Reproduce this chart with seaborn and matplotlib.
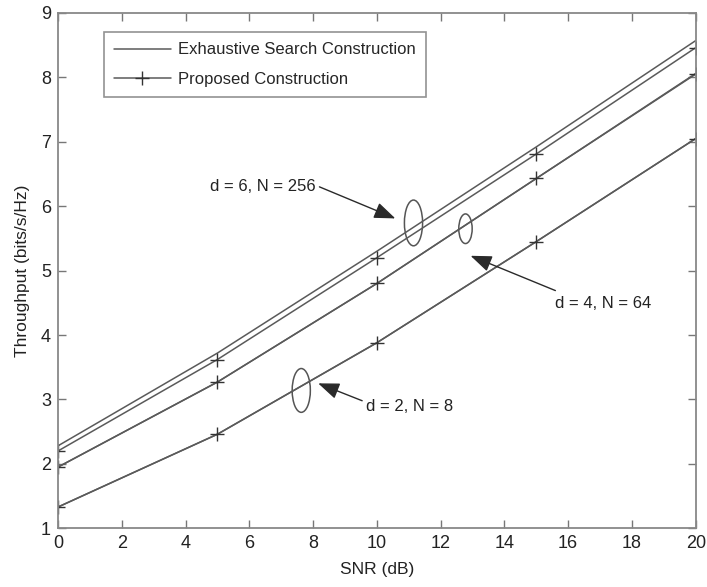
import matplotlib
matplotlib.use("Agg")
import matplotlib.pyplot as plt
from matplotlib.patches import Ellipse
import numpy as np
import pandas as pd
import seaborn as sns

# SNR sample points (dB)
snr = [0, 5, 10, 15, 20]

# Throughput (bits/s/Hz) for each constellation size
exhaustive_d6 = [2.28, 3.72, 5.30, 6.92, 8.57]
proposed_d6 = [2.20, 3.62, 5.20, 6.81, 8.46]
exhaustive_d4 = [1.95, 3.27, 4.80, 6.43, 8.06]
proposed_d4 = [1.95, 3.27, 4.80, 6.43, 8.05]
exhaustive_d2 = [1.33, 2.46, 3.88, 5.45, 7.05]
proposed_d2 = [1.33, 2.46, 3.88, 5.45, 7.05]

x_ticks = [0, 2, 4, 6, 8, 10, 12, 14, 16, 18, 20]
y_ticks = [1, 2, 3, 4, 5, 6, 7, 8, 9]

sns.set_style("white")
plt.rcParams["font.family"] = ["Liberation Sans", "DejaVu Sans"]

fig = plt.figure(figsize=(7.07, 5.87), dpi=100)
ax = fig.add_axes([0.082, 0.100, 0.902, 0.878])

line_color = "#5a5a5a"
series = [
    ("Exhaustive Search Construction", exhaustive_d6, None),
    ("Proposed Construction", proposed_d6, "+"),
    (None, exhaustive_d4, None),
    (None, proposed_d4, "+"),
    (None, exhaustive_d2, None),
    (None, proposed_d2, "+"),
]
for label, values, mk in series:
    df = pd.DataFrame({"snr": snr, "thr": values})
    sns.lineplot(data=df, x="snr", y="thr", ax=ax, color=line_color,
                 linewidth=1.1, marker=mk, markersize=10, markeredgewidth=1.0,
                 markeredgecolor="#333333", label=label, legend=bool(label))

ax.set_xlim(0, 20)
ax.set_ylim(1, 9)
ax.set_xticks(x_ticks)
ax.set_yticks(y_ticks)
ax.set_xlabel("SNR (dB)", fontsize=12.5, color="#222222", labelpad=7)
ax.set_ylabel("Throughput (bits/s/Hz)", fontsize=12.5, color="#222222", labelpad=8)
ax.tick_params(direction="in", length=6, width=1, colors="#777777",
               labelcolor="#222222", labelsize=13, top=True, right=True,
               bottom=True, left=True, pad=5)
for sp in ax.spines.values():
    sp.set_color("#888888")
    sp.set_linewidth(1.3)

leg = ax.legend(loc="upper left", bbox_to_anchor=(0.072, 0.962), fontsize=12,
                frameon=True, fancybox=False, handlelength=3.4,
                borderpad=0.6, labelspacing=0.85, handletextpad=0.45,
                borderaxespad=0)
leg.get_frame().set_edgecolor("#777777")
leg.get_frame().set_linewidth(1.2)

# group markers
for cx, cy, w, h in [(11.15, 5.74, 0.57, 0.71), (12.78, 5.65, 0.42, 0.46),
                     (7.63, 3.14, 0.57, 0.68)]:
    ax.add_patch(Ellipse((cx, cy), w, h, fill=False, edgecolor="#555555", lw=1.1))

arrow = dict(arrowstyle="-|>,head_length=1.3,head_width=0.5", color="#2a2a2a",
             lw=1.0, shrinkA=0, shrinkB=0)
ax.annotate("", xy=(10.58, 5.81), xytext=(8.2, 6.30), arrowprops=arrow)
ax.text(8.08, 6.30, "d = 6, N = 256", ha="right", va="center", fontsize=12, color="#222222")
ax.annotate("", xy=(12.94, 5.23), xytext=(15.6, 4.69), arrowprops=arrow)
ax.text(15.58, 4.49, "d = 4, N = 64", ha="left", va="center", fontsize=12, color="#222222")
ax.annotate("", xy=(8.16, 3.25), xytext=(9.54, 2.98), arrowprops=arrow)
ax.text(9.66, 2.89, "d = 2, N = 8", ha="left", va="center", fontsize=12, color="#222222")

fig.savefig("out.png", dpi=100)
